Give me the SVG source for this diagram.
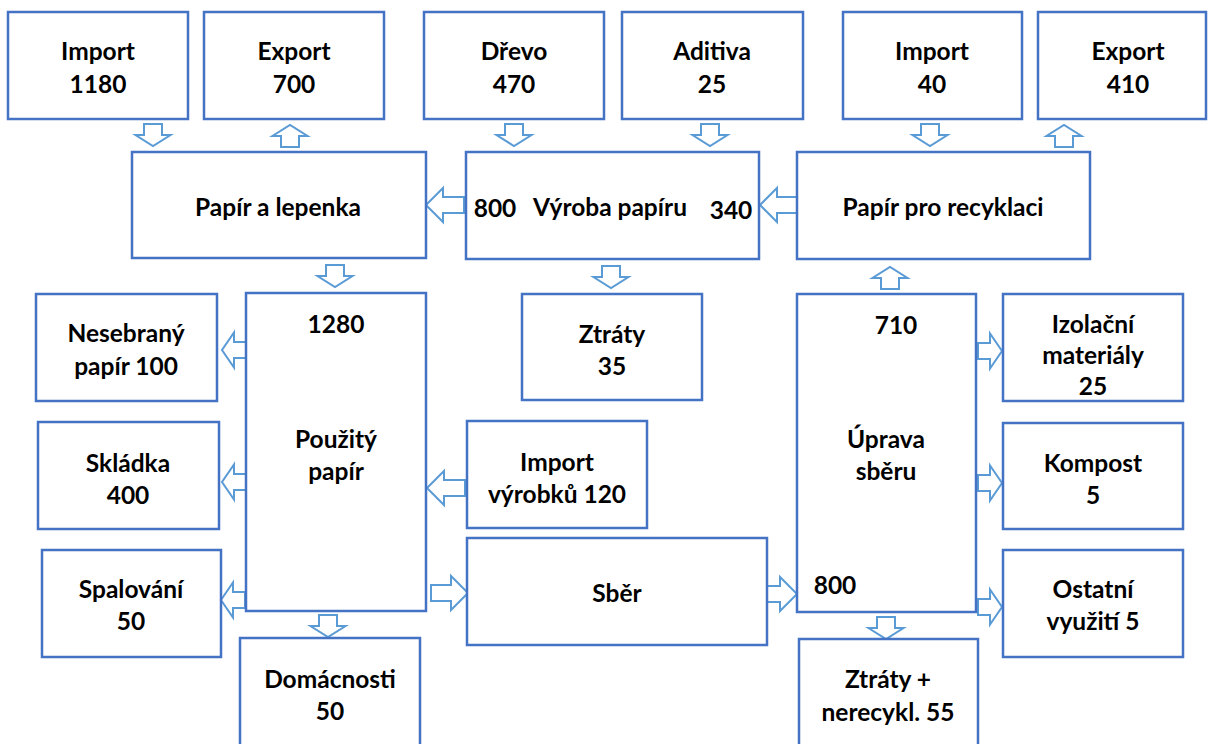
<svg xmlns="http://www.w3.org/2000/svg" xmlns:xlink="http://www.w3.org/1999/xlink" width="1208" height="744" viewBox="0 0 1208 744">
  <style>
    .box { fill: #ffffff; stroke: #4472C4; stroke-width: 2.5; }
    .arr { fill: #ffffff; stroke: #5B9BD5; stroke-width: 2; stroke-linejoin: miter; }
    text { font-family: Lato, "Open Sans", "Liberation Sans", sans-serif; font-weight: bold; font-size: 24.5px; fill: #000000; text-anchor: middle; dominant-baseline: central; }
  </style>
  <defs>
    <!-- block arrows, tip at origin -->
    <path id="ad" class="arr" d="M-9,-22 L9,-22 L9,-11 L17.5,-11 L0,0 L-17.5,-11 L-9,-11 Z"/>
    <path id="au" class="arr" d="M-9,22 L9,22 L9,11 L17.5,11 L0,0 L-17.5,11 L-9,11 Z"/>
    <path id="al" class="arr" d="M24,-8 L24,8 L12,8 L12,17.5 L0,0 L12,-17.5 L12,-8 Z"/>
    <path id="ar" class="arr" d="M-24,-8 L-24,8 L-12,8 L-12,17.5 L0,0 L-12,-17.5 L-12,-8 Z"/>
    <path id="AL" class="arr" d="M38,-8 L38,8 L17,8 L17,17 L0,0 L17,-17 L17,-8 Z"/>
    <path id="AR" class="arr" d="M-37,-8 L-37,8 L-17,8 L-17,17 L0,0 L-17,-17 L-17,-8 Z"/>
  </defs>

  <g id="connectors">
    <use xlink:href="#ad" transform="translate(153,146)"/>
    <use xlink:href="#au" transform="translate(290,125)"/>
    <use xlink:href="#ad" transform="translate(514,146)"/>
    <use xlink:href="#ad" transform="translate(710,146)"/>
    <use xlink:href="#ad" transform="translate(930,146)"/>
    <use xlink:href="#au" transform="translate(1064,125)"/>
    <use xlink:href="#AL" transform="translate(426,205)"/>
    <use xlink:href="#AL" transform="translate(760,205)"/>
    <use xlink:href="#ad" transform="translate(335,287)"/>
    <use xlink:href="#ad" transform="translate(611,288)"/>
    <use xlink:href="#au" transform="translate(890,267)"/>
    <use xlink:href="#al" transform="translate(222,350)"/>
    <use xlink:href="#al" transform="translate(222,482)"/>
    <use xlink:href="#al" transform="translate(221,600)"/>
    <use xlink:href="#AL" transform="translate(427,488)"/>
    <use xlink:href="#AR" transform="translate(468,593)"/>
    <use xlink:href="#AR" transform="translate(797,594)"/>
    <use xlink:href="#ad" transform="translate(328,637)"/>
    <use xlink:href="#ad" transform="translate(886,639)"/>
    <use xlink:href="#ar" transform="translate(1002,351)"/>
    <use xlink:href="#ar" transform="translate(1002,483)"/>
    <use xlink:href="#ar" transform="translate(1002,607)"/>
  </g>

  <g id="import-1180">
    <rect class="box" x="8" y="12" width="180" height="107"/>
    <text x="98" y="50">Import</text>
    <text x="98" y="83">1180</text>
  </g>
  <g id="export-700">
    <rect class="box" x="204" y="12" width="180" height="107"/>
    <text x="294" y="50">Export</text>
    <text x="294" y="83">700</text>
  </g>
  <g id="drevo">
    <rect class="box" x="424" y="12" width="180" height="107"/>
    <text x="514" y="50">Dřevo</text>
    <text x="514" y="83">470</text>
  </g>
  <g id="aditiva">
    <rect class="box" x="622" y="12" width="181" height="107"/>
    <text x="712" y="50">Aditiva</text>
    <text x="712" y="83">25</text>
  </g>
  <g id="import-40">
    <rect class="box" x="843" y="12" width="179" height="107"/>
    <text x="932" y="50">Import</text>
    <text x="932" y="83">40</text>
  </g>
  <g id="export-410">
    <rect class="box" x="1038" y="12" width="168" height="107"/>
    <text x="1128" y="50">Export</text>
    <text x="1128" y="83">410</text>
  </g>

  <g id="papir-a-lepenka">
    <rect class="box" x="132" y="152" width="294" height="106"/>
    <text x="278" y="206">Papír a lepenka</text>
  </g>
  <g id="vyroba-papiru">
    <rect class="box" x="466" y="152" width="293" height="107"/>
    <text x="495" y="207">800</text>
    <text x="610" y="206">Výroba papíru</text>
    <text x="731" y="209">340</text>
  </g>
  <g id="papir-pro-recyklaci">
    <rect class="box" x="797" y="152" width="293" height="107"/>
    <text x="943" y="206">Papír pro recyklaci</text>
  </g>

  <g id="nesebrany-papir">
    <rect class="box" x="36" y="294" width="181" height="107"/>
    <text x="126" y="332">Nesebraný</text>
    <text x="126" y="365">papír 100</text>
  </g>
  <g id="pouzity-papir">
    <rect class="box" x="246" y="293" width="180" height="318"/>
    <text x="336" y="323">1280</text>
    <text x="336" y="438">Použitý</text>
    <text x="336" y="470">papír</text>
  </g>
  <g id="ztraty-35">
    <rect class="box" x="522" y="294" width="180" height="106"/>
    <text x="612" y="333">Ztráty</text>
    <text x="612" y="365">35</text>
  </g>
  <g id="uprava-sberu">
    <rect class="box" x="797" y="294" width="179" height="318"/>
    <text x="896" y="324">710</text>
    <text x="886" y="438">Úprava</text>
    <text x="886" y="470">sběru</text>
    <text x="835" y="584">800</text>
  </g>
  <g id="izolacni-materialy">
    <rect class="box" x="1003" y="294" width="180" height="107"/>
    <text x="1093" y="323">Izolační</text>
    <text x="1093" y="354">materiály</text>
    <text x="1093" y="385">25</text>
  </g>

  <g id="skladka">
    <rect class="box" x="38" y="422" width="181" height="107"/>
    <text x="128" y="462">Skládka</text>
    <text x="128" y="494">400</text>
  </g>
  <g id="import-vyrobku">
    <rect class="box" x="467" y="421" width="180" height="107"/>
    <text x="557" y="461">Import</text>
    <text x="557" y="493">výrobků 120</text>
  </g>
  <g id="kompost">
    <rect class="box" x="1003" y="423" width="180" height="106"/>
    <text x="1093" y="462">Kompost</text>
    <text x="1093" y="494">5</text>
  </g>

  <g id="spalovani">
    <rect class="box" x="42" y="550" width="179" height="107"/>
    <text x="131" y="588">Spalování</text>
    <text x="131" y="620">50</text>
  </g>
  <g id="sber">
    <rect class="box" x="467" y="538" width="300" height="107"/>
    <text x="617" y="592">Sběr</text>
  </g>
  <g id="ostatni-vyuziti">
    <rect class="box" x="1003" y="550" width="180" height="107"/>
    <text x="1093" y="588">Ostatní</text>
    <text x="1093" y="620">využití 5</text>
  </g>

  <g id="domacnosti">
    <rect class="box" x="240" y="638" width="180" height="120"/>
    <text x="330" y="678">Domácnosti</text>
    <text x="330" y="710">50</text>
  </g>
  <g id="ztraty-nerecykl">
    <rect class="box" x="799" y="639" width="179" height="120"/>
    <text x="888" y="678">Ztráty +</text>
    <text x="888" y="711">nerecykl. 55</text>
  </g>
</svg>
